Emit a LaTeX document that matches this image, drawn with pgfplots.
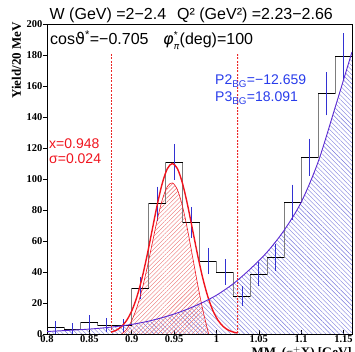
\documentclass[border=0pt]{standalone}
\usepackage{fontspec}
\setmainfont{Liberation Serif}
\newfontfamily\arial{Liberation Sans}
\newfontfamily\dejavu{DejaVu Sans}
\usepackage{pgfplots}
\usepackage{pgfplotstable}
\pgfplotsset{compat=1.18}
\usetikzlibrary{patterns.meta}
\definecolor{rred}{RGB}{240,20,30}
\definecolor{cutred}{RGB}{235,40,40}
\definecolor{hatchred}{RGB}{235,110,110}
\definecolor{hblue}{RGB}{50,50,210}
\definecolor{bkgline}{RGB}{90,40,210}
\definecolor{bkghatch}{RGB}{120,120,220}
\definecolor{txtblue}{RGB}{40,60,235}
\definecolor{histgray}{RGB}{125,125,125}

\pgfplotstableread{
x y ey
0.81 4.3 2.5
0.83 3.2 2.2
0.85 7.5 3.0
0.87 5.8 2.6
0.89 5.4 2.5
0.91 29.5 5.5
0.93 84 9.4
0.95 111 10
0.97 72 8.4
0.99 47 7
1.01 40 6.5
1.03 24.5 4.7
1.05 38.5 6.1
1.07 49.5 7.2
1.09 85 9.7
1.11 114 10.4
1.13 155 12.3
1.15 179 13.3
}\hist

\pgfplotstableread{
x y
0.80 4.3
0.82 3.2
0.84 7.5
0.86 5.8
0.88 5.4
0.90 29.5
0.92 84
0.94 111
0.96 72
0.98 47
1.00 40
1.02 24.5
1.04 38.5
1.06 49.5
1.08 85
1.10 114
1.12 155
1.14 179
1.16 179
}\edges

\pgfplotstableread{
x y
0.80 1.6
0.82 2.2
0.84 2.8
0.86 3.6
0.88 4.7
0.90 6.2
0.92 8.3
0.94 11.2
0.96 14.8
0.98 19.4
1.00 25.0
1.02 32.5
1.04 42.0
1.06 53.0
1.08 67.0
1.10 85.0
1.12 111.0
1.14 146.0
1.16 182.0
}\bkg

\pgfplotstableread{
x y
0.876 1.22
0.882 2.51
0.888 4.83
0.894 8.76
0.900 14.88
0.906 23.79
0.912 35.72
0.918 50.36
0.924 66.72
0.930 83.03
0.936 97.08
0.942 106.61
0.948 110
0.954 106.61
0.960 97.08
0.966 83.03
0.972 66.72
0.978 50.36
0.984 35.72
0.990 23.79
0.996 14.88
1.002 8.76
1.008 4.83
1.014 2.51
1.020 1.22
1.025 0.64
}\gauss

\pgfplotstableread{
x y
0.888 0
0.894 3.05
0.900 8.68
0.906 17.03
0.912 28.33
0.918 42.30
0.924 57.91
0.930 73.39
0.936 86.53
0.942 95.10
0.948 97.48
0.954 93.00
0.960 82.28
0.966 66.97
0.972 49.31
0.978 31.48
0.984 15.31
0.990 1.77
0.991 0
}\signal

\pgfplotstableread{
x y
0.8754 180
0.8766 180
}\cutlo

\pgfplotstableread{
x y
1.0244 180
1.0256 180
}\cuthi

\begin{document}
\begin{tikzpicture}
\begin{axis}[
  scale only axis, width=305pt, height=310pt,
  xmin=0.8, xmax=1.16, ymin=0, ymax=200,
  axis line style={black, line width=0.8pt},
  xtick={0.8,0.85,0.9,0.95,1,1.05,1.1,1.15},
  xticklabels={0.8,0.85,0.9,0.95,1,1.05,1.1,1.15},
  ytick={0,20,40,60,80,100,120,140,160,180,200},
  yticklabels={0,20,40,60,80,100,120,140,160,180,200},
  tick align=inside, major tick length=4pt,
  tick style={black, line width=0.6pt},
  y tick style={xshift=-4pt},
  xtick pos=bottom, ytick pos=left,
  tick label style={font=\bfseries\fontsize{10.5}{12}\selectfont},
  xticklabel style={yshift=2pt},
  yticklabel style={xshift=-1pt},
  /pgf/number format/assume math mode=true,
]
\coordinate (ll) at (rel axis cs:0,0);
% background hatch
\addplot[draw=none, pattern={Lines[angle=-45,distance=3.2pt,line width=0.4pt]}, pattern color=bkghatch, smooth] table {\bkg} \closedcycle;
% signal hatch
\addplot[draw=none, pattern={Lines[angle=45,distance=3pt,line width=0.4pt]}, pattern color=hatchred, smooth] table {\signal} \closedcycle;
% histogram
\addplot[const plot, draw=histgray, line width=0.8pt] table {\edges};
\addplot[draw=none, error bars/.cd, x dir=both, x fixed=0.01, error mark=none,
  error bar style={draw=black, line width=0.8pt}] table[x=x,y=y] {\hist};
\addplot[draw=none, error bars/.cd, y dir=both, y explicit,
  error bar style={draw=hblue, line width=0.7pt},
  error mark options={draw=hblue, mark size=2.5pt, line width=0.7pt}] table[x=x,y=y,y error=ey] {\hist};
% curves
\addplot[draw=rred, line width=0.6pt, smooth] table {\signal};
\addplot[draw=rred, line width=1.4pt, smooth] table {\gauss};
\addplot[draw=bkgline, line width=0.9pt, smooth] table {\bkg};
% fit range lines: thin bars filled with horizontal dashes
\addplot[draw=none, pattern={Lines[angle=0,distance=3.3pt,line width=2pt]}, pattern color=cutred] table {\cutlo} \closedcycle;
\addplot[draw=none, pattern={Lines[angle=0,distance=3.3pt,line width=2pt]}, pattern color=cutred] table {\cuthi} \closedcycle;
\end{axis}
\begin{scope}[shift={(ll)}]
\node[anchor=base west, inner sep=0pt] at (2.5pt,314pt) {\arial\fontsize{16}{18}\selectfont W (GeV) =2−2.4};
\node[anchor=base west, inner sep=0pt] at (130pt,314pt) {\arial\fontsize{16}{18}\selectfont Q² (GeV²) =2.23−2.66};
\node[anchor=base west, inner sep=0pt] at (3pt,289pt) {\arial\fontsize{16}{18}\selectfont cos{\dejavu ϑ}\textsuperscript{*}=−0.705};
\node[anchor=base west, inner sep=0pt] at (116pt,289pt) {\arial\fontsize{16}{18}\selectfont $\hbox{\dejavu\itshape\fontsize{16}{18}\selectfont φ}_{\hbox{\dejavu\itshape\fontsize{9}{10}\selectfont π}}^{\hbox{\arial\fontsize{10}{10}\selectfont *}}$(deg)=100};
\node[anchor=base west, inner sep=0pt, text=rred] at (2pt,185pt) {\arial\fontsize{14}{16}\selectfont x=0.948};
\node[anchor=base west, inner sep=0pt, text=rred] at (2pt,170pt) {\arial\fontsize{14}{16}\selectfont σ=0.024};
\node[anchor=base west, inner sep=0pt, text=txtblue] at (168pt,249pt) {\arial\fontsize{14}{16}\selectfont P2\textsubscript{BG}=−12.659};
\node[anchor=base west, inner sep=0pt, text=txtblue] at (168pt,232pt) {\arial\fontsize{14}{16}\selectfont P3\textsubscript{BG}=18.091};
\node[anchor=base east, inner sep=0pt, rotate=90] at (-26pt,312pt) {\bfseries\fontsize{13}{15}\selectfont Yield/20 MeV};
\node[anchor=base east, inner sep=0pt] at (305pt,-23pt) {\bfseries\fontsize{13}{15}\selectfont MM$_{\mathbf{p}}$($\pi^{+}$X) [GeV]};
\end{scope}
\pgfresetboundingbox
\path[use as bounding box, shift={(ll)}] (-47pt,-18pt) rectangle (308pt,334pt);
\end{tikzpicture}
\end{document}
